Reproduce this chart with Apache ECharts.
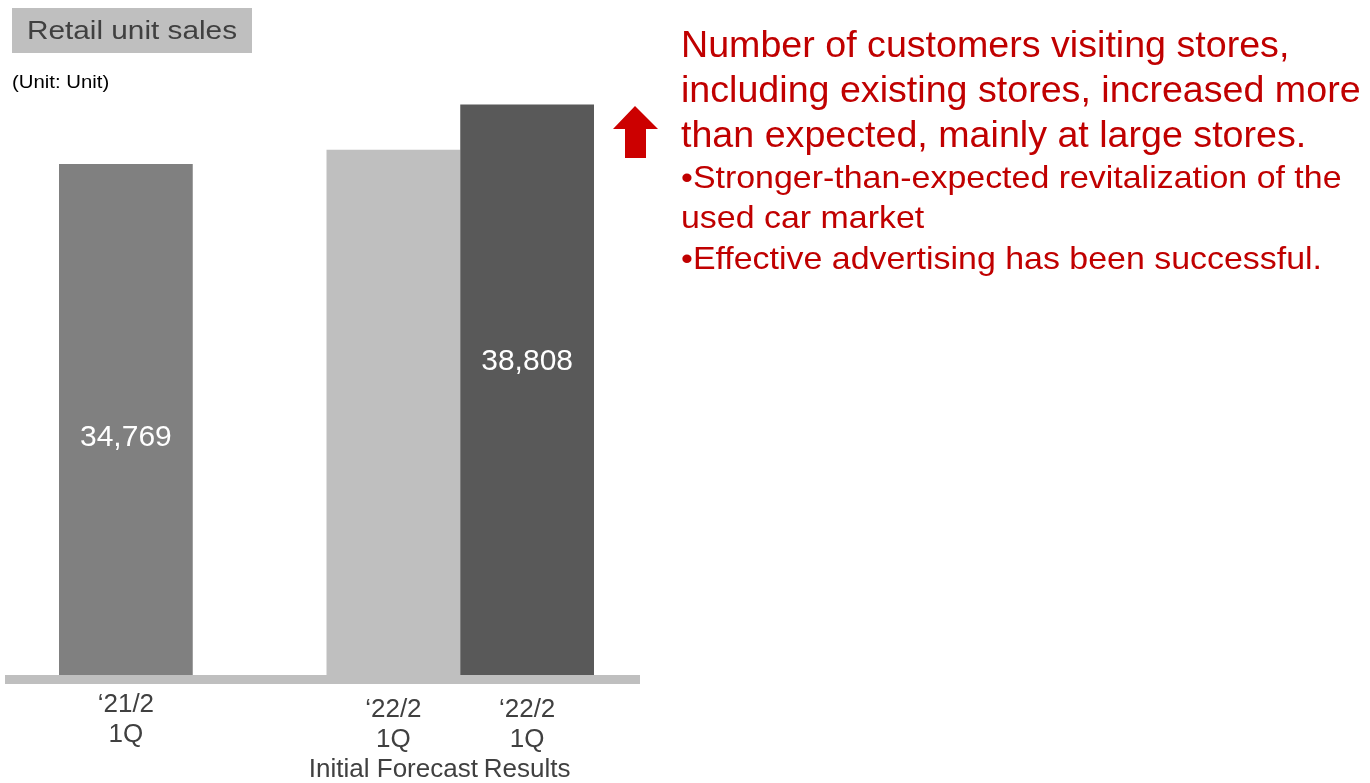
<!DOCTYPE html>
<html>
<head>
<meta charset="utf-8">
<script src="https://cdn.jsdelivr.net/npm/echarts@6/dist/echarts.min.js"></script>
<style>
html,body{margin:0;padding:0;background:#fff;}
#chart{width:1370px;height:783px;}
</style>
</head>
<body>
<div id="chart"></div>
<script>
// ---- data ----
const categories = ['\u201821/2\n1Q', '', '\u201822/2\n1Q\nInitial Forecast', '\u201822/2\n1Q\nResults'];
const values = [34769, null, 35730, 38808];
const valueLabels = ['34,769', '', '', '38,808'];
const barColors = ['#808080', '#808080', '#bfbfbf', '#595959'];
const labelOffsets = [[0, 18], [0, 0], [0, 0], [0, -28]];
const titleText = 'Retail unit sales';
const unitText = '(Unit: Unit)';
const headLines = ['Number of customers visiting stores,', 'including existing stores, increased more', 'than expected, mainly at large stores.'];
const bulletLines = ['\u2022Stronger-than-expected revitalization of the', 'used car market', '\u2022Effective advertising has been successful.'];

const FONT = '"Liberation Sans", Arial, sans-serif';
const chart = echarts.init(document.getElementById('chart'));

const seriesData = values.map((v, i) => ({
  value: v,
  itemStyle: { color: barColors[i] },
  label: {
    show: !!valueLabels[i],
    formatter: valueLabels[i],
    offset: labelOffsets[i]
  }
}));

const catData = categories.map((c, i) => ({
  value: c,
  textStyle: { padding: [c.split('\n').length > 2 ? 5 : 0, 0, 0, 0] }
}));

const graphics = [];
// title box
graphics.push({
  type: 'rect', left: 12, top: 8, shape: { width: 240, height: 45 },
  style: { fill: '#bfbfbf' }, z: 1
});
graphics.push({
  type: 'text', left: 27, top: 20, z: 2, scaleX: 1.19,
  style: { text: titleText, font: '25px ' + FONT, fill: '#404040' }
});
graphics.push({
  type: 'text', left: 12, top: 74, z: 2, scaleX: 1.13,
  style: { text: unitText, font: '18px ' + FONT, fill: '#000' }
});
// red arrow
graphics.push({
  type: 'polygon', z: 2,
  shape: { points: [[635, 106], [658, 129], [646, 129], [646, 158], [625, 158], [625, 129], [613, 129]] },
  style: { fill: '#cc0000' }
});
headLines.forEach((t, i) => {
  graphics.push({
    type: 'text', left: 681, top: 29 + i * 45, z: 2, scaleX: 1.045,
    style: { text: t, font: '36px ' + FONT, fill: '#c00000' }
  });
});
bulletLines.forEach((t, i) => {
  graphics.push({
    type: 'text', left: 681, top: 163 + i * 40.5, z: 2, scaleX: 1.06,
    style: { text: t, font: '32px ' + FONT, fill: '#c00000' }
  });
});

chart.setOption({
  animation: false,
  backgroundColor: '#fff',
  textStyle: { fontFamily: FONT },
  grid: [
    { left: 59, right: 776, top: 87, bottom: 108, containLabel: false, outerBoundsMode: 'none' },
    { left: 5, right: 730, top: 87, bottom: 104, containLabel: false, outerBoundsMode: 'none' }
  ],
  xAxis: [
    {
      type: 'category', gridIndex: 0, data: catData,
      axisLine: { show: false }, axisTick: { show: false },
      axisLabel: { fontSize: 26, lineHeight: 30, color: '#404040', margin: 15, interval: 0 }
    },
    {
      type: 'value', gridIndex: 1, min: 0, max: 1,
      axisLine: { show: true, onZero: false, lineStyle: { color: '#bfbfbf', width: 9, cap: 'butt' } },
      axisTick: { show: false }, axisLabel: { show: false }, splitLine: { show: false }
    }
  ],
  yAxis: [
    { type: 'value', gridIndex: 0, min: 0, max: 40000, show: false, splitLine: { show: false } },
    { type: 'value', gridIndex: 1, min: 0, max: 1, show: false, splitLine: { show: false } }
  ],
  series: [{
    type: 'bar', xAxisIndex: 0, yAxisIndex: 0,
    barWidth: '100%', barCategoryGap: 0,
    data: seriesData,
    z: 3,
    label: { show: true, position: 'inside', color: '#fff', fontSize: 30, fontFamily: FONT }
  }],
  graphic: graphics
});
</script>
</body>
</html>
